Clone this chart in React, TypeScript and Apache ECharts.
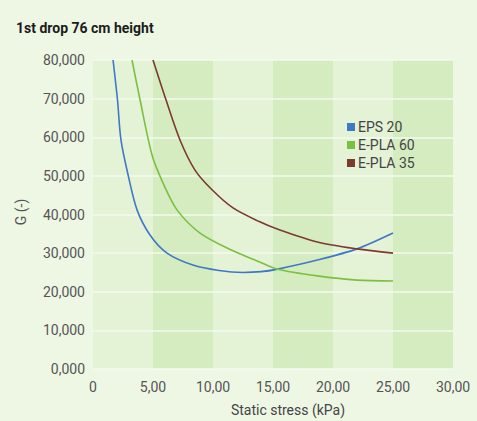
import React, { useEffect, useRef } from "react";
import * as echarts from "echarts";

const titleText = "1st drop 76 cm height";
const xAxisName = "Static stress (kPa)";
const yAxisName = "G (-)";
const xTickLabels = ["0", "5,00", "10,00", "15,00", "20,00", "25,00", "30,00"];
const yTickLabels = ["0,000", "10,000", "20,000", "30,000", "40,000", "50,000", "60,000", "70,000", "80,000"];
const seriesNames = ["EPS 20", "E-PLA 60", "E-PLA 35"];

const eps20: [number, number][] = [
  [1.67, 80000], [2.04, 69700], [2.33, 59300], [2.92, 50300], [3.67, 41200], [4.75, 34700],
  [6.17, 30000], [8.33, 26900], [10.5, 25500], [12.5, 25000], [14.0, 25200], [15.3, 25800],
  [18.7, 28200], [22, 31100], [25, 35200],
];
const epla60: [number, number][] = [
  [3.25, 80000], [3.92, 69700], [4.92, 55400], [5.83, 48200], [7.0, 41200], [8.92, 35200],
  [11.67, 30600], [13.9, 27700], [15.3, 25900], [18.7, 24100], [22, 23000], [25, 22800],
];
const epla35: [number, number][] = [
  [5.0, 80000], [6.08, 69700], [7.25, 59300], [8.5, 51500], [9.92, 46400], [11.67, 41700],
  [13.9, 38100], [15.3, 36300], [18.7, 32900], [22, 31100], [25, 30000],
];

const colors = ["#3f78c4", "#7cc043", "#7d3a2e"];
const FONT = "Roboto, 'Liberation Sans', sans-serif";

export default function App() {
  const ref = useRef<HTMLDivElement>(null);
  useEffect(() => {
    document.body.style.margin = "0";
    document.body.style.background = "#eef7e4";
    const chart = echarts.init(ref.current!, null, { renderer: "svg" });
    const mk = (i: number, data: [number, number][]) => ({
      name: seriesNames[i],
      type: "line",
      data,
      smooth: 0.3,
      showSymbol: false,
      lineStyle: { color: colors[i], width: 1.6 },
      itemStyle: { color: colors[i] },
    });
    chart.setOption({
      animation: false,
      backgroundColor: "#eef7e4",
      textStyle: { fontFamily: FONT },
      title: {
        text: titleText,
        left: 11,
        top: 16,
        textStyle: { fontSize: 14, fontWeight: "bold", color: "#1c1c1c", fontFamily: FONT },
      },
      legend: {
        orient: "vertical",
        left: 342,
        top: 115,
        itemWidth: 8,
        itemHeight: 8,
        itemGap: 4,
        icon: "rect",
        textStyle: { fontSize: 14, color: "#444", fontFamily: FONT, padding: [0, 0, 0, -2] },
        data: seriesNames,
      },
      grid: { left: 93, right: 24, top: 60, bottom: 52 },
      xAxis: {
        type: "value",
        min: 0,
        max: 30,
        interval: 5,
        z: 0,
        axisLine: { show: false },
        axisTick: { show: false },
        splitLine: { show: false },
        splitArea: { show: true, areaStyle: { color: ["#e4f2d5", "#d4ecbf"] } },
        axisLabel: {
          margin: 11,
          fontSize: 14,
          color: "#555",
          fontFamily: FONT,
          formatter: (v: number) => xTickLabels[Math.round(v / 5)] ?? "",
        },
      },
      yAxis: {
        type: "value",
        min: 0,
        max: 80000,
        interval: 10000,
        z: 1,
        axisLine: { show: false },
        axisTick: { show: false },
        splitLine: { show: true, lineStyle: { color: "#f5fbef", width: 1.5 } },
        axisLabel: {
          margin: 8,
          fontSize: 14,
          color: "#555",
          fontFamily: FONT,
          formatter: (v: number) => yTickLabels[Math.round(v / 10000)] ?? "",
        },
      },
      graphic: [
        {
          type: "text",
          x: 288,
          y: 410,
          style: { text: xAxisName, fontSize: 14, fill: "#444", fontFamily: FONT, align: "center", verticalAlign: "middle" },
        },
        {
          type: "text",
          x: 21,
          y: 212,
          rotation: Math.PI / 2,
          style: { text: yAxisName, fontSize: 14, fill: "#555", fontFamily: FONT, align: "center", verticalAlign: "middle" },
        },
      ],
      series: [mk(0, eps20), mk(1, epla60), mk(2, epla35)],
    });
    return () => chart.dispose();
  }, []);
  return <div ref={ref} style={{ width: 477, height: 421, background: "#eef7e4" }} />;
}
